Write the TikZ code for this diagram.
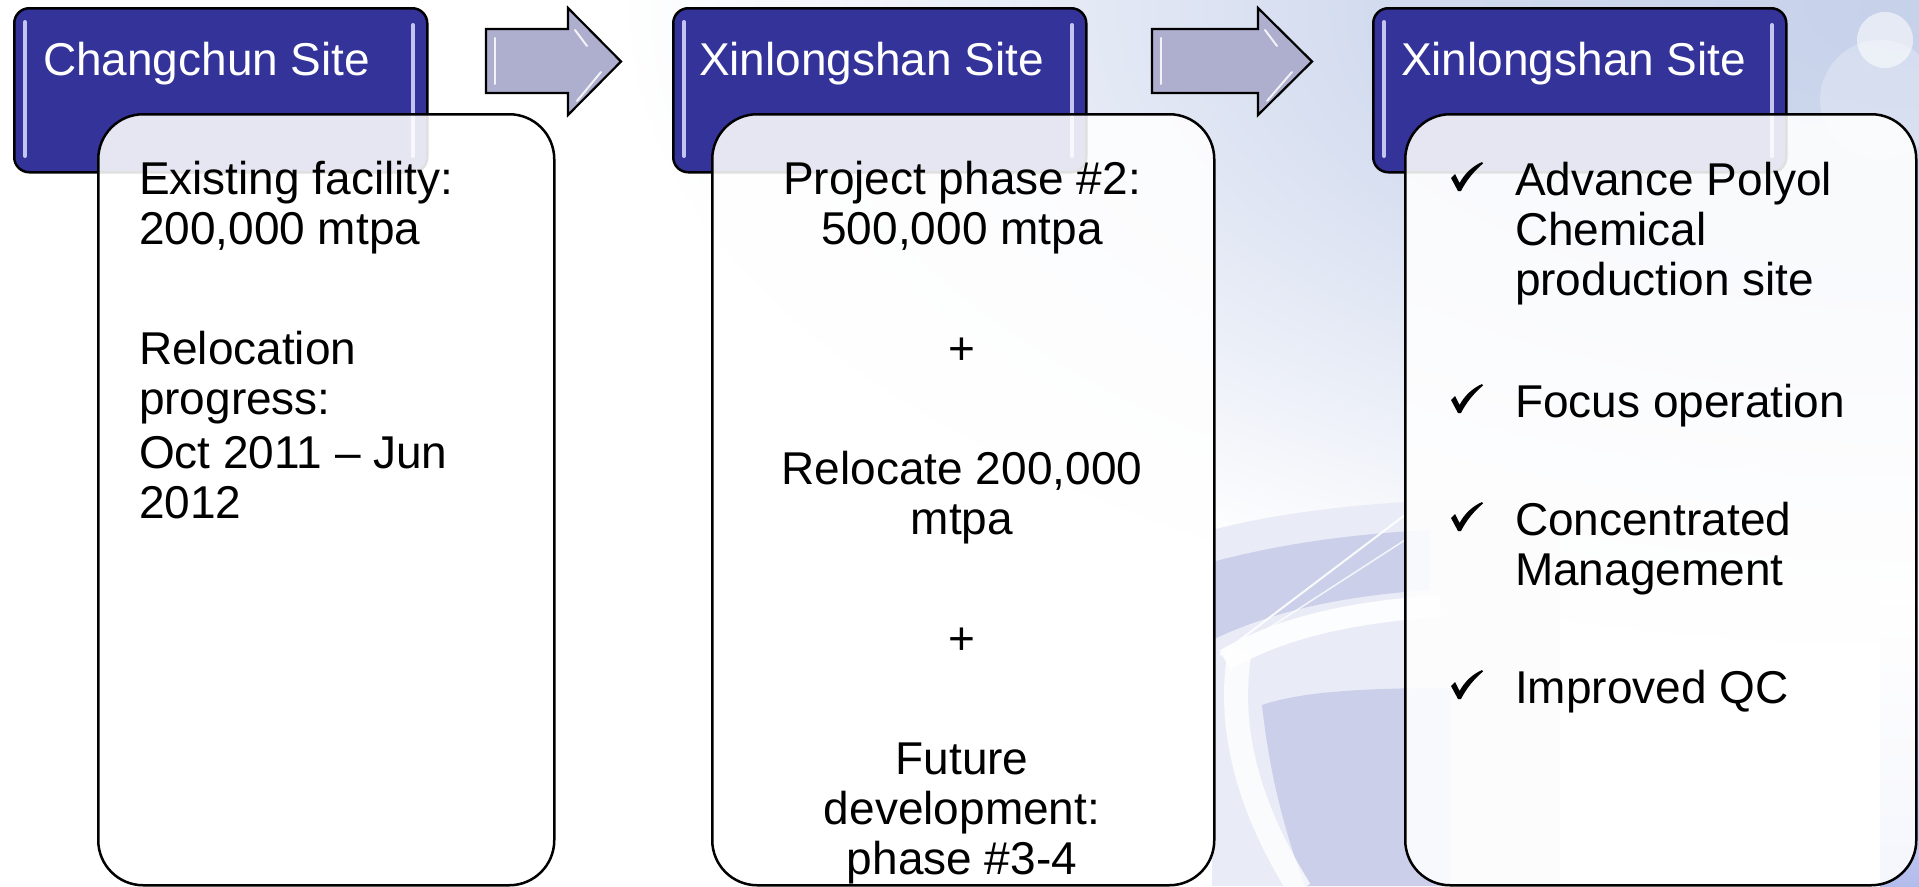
\documentclass[tikz,border=0pt]{standalone}
\usepackage{fontspec}
\setmainfont{Liberation Sans}

\definecolor{tabblue}{RGB}{51,51,153}
\definecolor{tabglint}{RGB}{196,196,240}
\definecolor{arrowfill}{RGB}{174,174,206}
\definecolor{bgblue}{RGB}{198,209,234}
\definecolor{swirlmid}{RGB}{203,207,233}
\definecolor{swirllight}{RGB}{233,235,246}

% soft glow in the upper right corner
\pgfdeclareradialshading{cornerglow}{\pgfpoint{0bp}{0bp}}{%
  color(0bp)=(bgblue); color(10bp)=(bgblue!80!white); color(25bp)=(white); color(50bp)=(white)}

\tikzset{
  tabbox/.style={fill=tabblue, draw=black, line width=2.5pt, rounded corners=15pt,
                 inner sep=0pt, anchor=north west},
  cardbox/.style={fill=white, fill opacity=0.88, draw=black, line width=2.5pt,
                  rounded corners=45pt, inner sep=0pt, anchor=north west},
  glint/.style={draw=tabglint, line width=4pt, line cap=round},
  arrowbody/.style={fill=arrowfill, draw=black, line width=2.2pt, line join=miter},
  arrowshine/.style={draw=white, line width=2pt, opacity=0.85, line cap=round},
  lbl/.style={inner sep=0pt, outer sep=0pt, font=\fontsize{46}{50}\selectfont},
  tabtxt/.style={lbl, text=white, anchor=base west},
  bodyL/.style={lbl, anchor=base west},
  bodyC/.style={lbl, anchor=base},
  tickmark/.pic={
    \fill[black] (0,-17) -- (4,-21) -- (8.5,-12)
      .. controls (14,-22) and (22,-29) .. (31,-33) -- (32,-31.5)
      .. controls (23,-24) and (15,-14) .. (10,-4) -- (7,-4) -- cycle;
  },
}

\begin{document}
\begin{tikzpicture}[x=1pt, y=-1pt]
\useasboundingbox (0,0) rectangle (1919,886);

% ---- background ----
\fill[white] (0,0) rectangle (1919,886);
\shade[shading=cornerglow] (1919,10) ellipse (1300 and 640);
\fill[white, opacity=0.55] (1885,40) circle (28);
\fill[white, opacity=0.25] (1880,100) circle (60);
\shade[top color=white, bottom color=bgblue!90!blue] (1880,600) rectangle (1919,886);

% swirl in the lower right
\fill[swirllight] (1212,530) .. controls (1280,512) and (1400,495) .. (1560,500)
  -- (1560,886) -- (1212,886) -- cycle;
\fill[swirlmid] (1212,562) .. controls (1280,544) and (1350,534) .. (1430,530)
  -- (1430,590) .. controls (1340,596) and (1270,612) .. (1212,640) -- cycle;
\fill[swirlmid] (1262,705) .. controls (1300,692) and (1360,688) .. (1450,688)
  -- (1450,886) -- (1305,886) .. controls (1280,820) and (1268,760) .. cycle;
\draw[white, line width=22pt, opacity=0.9] (1225,660) .. controls (1280,628) and (1350,612) .. (1440,606);
\draw[white, line width=24pt, opacity=0.8] (1240,650) .. controls (1226,730) and (1250,810) .. (1300,890);
\draw[white, line width=2pt, opacity=0.9] (1220,655) -- (1405,515);
\draw[white, line width=1.5pt, opacity=0.8] (1235,650) -- (1405,540);

% ---- header tabs ----
\foreach \tx/\n in {13/1, 672/2, 1372/3}{
  \node[tabbox, minimum width=413pt, minimum height=164pt] (tab\n) at (\tx,7) {};
  \draw[glint] (\tx+12,22) -- (\tx+12,156);
  \draw[glint] (\tx+400,25) -- (\tx+400,156);
}

% ---- content cards ----
\foreach \cx/\cw/\n in {97/456/1, 711/502/2, 1404/511/3}{
  \node[cardbox, minimum width=\cw pt, minimum height=771pt] (card\n) at (\cx,113) {};
}

% ---- arrows between stages ----
\foreach \L/\H/\T in {486/568/621, 1152/1258/1312}{
  \draw[arrowbody] (\L,29) -- (\H,29) -- (\H,8) -- (\T,61.5) -- (\H,115) -- (\H,93) -- (\L,93) -- cycle;
  \draw[arrowshine] (\L+9,38) -- (\L+9,84);
  \draw[arrowshine] (\H+7,30) -- (\H+19,46);
  \draw[arrowshine] (\T-20,72) -- (\H+9,101);
}

% ---- tab titles ----
\node[tabtxt] (t1) at (43,75) {Changchun Site};
\node[tabtxt] (t2) at (699,75) {Xinlongshan Site};
\node[tabtxt] (t3) at (1401,75) {Xinlongshan Site};

% ---- stage 1 ----
\node[bodyL] (c1a) at (139,194) {Existing facility:};
\node[bodyL] (c1b) at (139,244) {200,000 mtpa};
\node[bodyL] (c1c) at (139,364) {Relocation};
\node[bodyL] (c1d) at (139,414) {progress:};
\node[bodyL] (c1e) at (139,468) {Oct 2011 – Jun};
\node[bodyL] (c1f) at (139,518) {2012};

% ---- stage 2 ----
\node[bodyC] (c2a) at (962,194) {Project phase \#2:};
\node[bodyC] (c2b) at (962,244) {500,000 mtpa};
\node[bodyC] (c2c) at (962,364) {+};
\node[bodyC] (c2d) at (962,484) {Relocate 200,000};
\node[bodyC] (c2e) at (962,534) {mtpa};
\node[bodyC] (c2f) at (962,654) {+};
\node[bodyC] (c2g) at (962,774) {Future};
\node[bodyC] (c2h) at (962,824) {development:};
\node[bodyC] (c2i) at (962,874) {phase \#3-4};

% ---- stage 3 ----
\pic (k1) at (1451,195) {tickmark};
\node[bodyL] (c3a) at (1515,195) {Advance Polyol};
\node[bodyL] (c3b) at (1515,245) {Chemical};
\node[bodyL] (c3c) at (1515,295) {production site};
\pic (k2) at (1451,417) {tickmark};
\node[bodyL] (c3d) at (1515,417) {Focus operation};
\pic (k3) at (1451,535) {tickmark};
\node[bodyL] (c3e) at (1515,535) {Concentrated};
\node[bodyL] (c3f) at (1515,585) {Management};
\pic (k4) at (1451,703) {tickmark};
\node[bodyL] (c3g) at (1515,703) {Improved QC};
\end{tikzpicture}
\end{document}
